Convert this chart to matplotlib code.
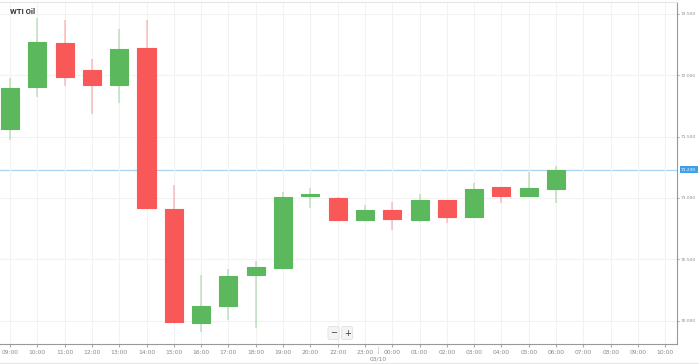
import numpy as np
import matplotlib.pyplot as plt
from matplotlib.patches import Rectangle

# hourly candles, WTI Oil
hours = ["09:00", "10:00", "11:00", "12:00", "13:00", "14:00", "15:00", "16:00",
         "17:00", "18:00", "19:00", "20:00", "22:00", "23:00", "00:00", "01:00",
         "02:00", "03:00", "04:00", "05:00", "06:00", "07:00", "08:00", "09:00", "10:00"]
opens = [71.562, 71.901, 72.260, 72.040, 71.920, 72.219, 70.910, 69.982, 70.121, 70.371,
         70.430, 71.016, 70.998, 70.818, 70.900, 70.818, 70.981, 70.843, 71.087, 71.014, 71.073]
highs = [71.977, 72.463, 72.450, 72.130, 72.374, 72.450, 71.106, 70.373, 70.419, 70.487,
         71.046, 71.079, 71.005, 70.943, 70.965, 71.030, 70.981, 71.120, 71.090, 71.209, 71.261]
lows = [71.472, 71.820, 71.912, 71.684, 71.776, 70.916, 69.988, 69.911, 70.004, 69.941,
        70.430, 70.916, 70.818, 70.818, 70.739, 70.807, 70.794, 70.843, 70.962, 71.014, 70.957]
closes = [71.896, 72.268, 71.983, 71.918, 72.211, 70.916, 69.988, 70.118, 70.365, 70.436,
          71.011, 71.035, 70.818, 70.905, 70.827, 70.981, 70.848, 71.076, 71.014, 71.079, 71.228]
last_price = 71.230
yticks = [70.0, 70.5, 71.0, 71.5, 72.0, 72.5]

green = "#5cb85c"
red = "#f95858"

fig = plt.figure(figsize=(6.99, 3.64), dpi=100)
ax = fig.add_axes([0, 20 / 364, 677 / 699, 342 / 364])

for i in range(len(opens)):
    up = closes[i] >= opens[i]
    c = green if up else red
    ax.vlines(i, lows[i], highs[i], color=c, alpha=0.35, lw=1.2, zorder=2)
    lo = min(opens[i], closes[i])
    h = max(abs(closes[i] - opens[i]), 0.01)
    ax.add_patch(Rectangle((i - 0.33, lo), 0.66, h, facecolor=c,
                           edgecolor=c, lw=0.8, zorder=3))

ax.set_xlim(-0.366, 24.43)
ax.set_ylim(69.811, 72.596)

ax.set_xticks(range(len(hours)))
ax.set_xticklabels(hours, fontsize=4.3, color="#888888")
ax.set_yticks(yticks)
ax.set_yticklabels([f"{v:.3f}" for v in yticks], fontsize=3.2, color="#888888")
ax.yaxis.tick_right()
ax.tick_params(axis="x", length=2, color="#aaaaaa", pad=2.5)
ax.tick_params(axis="y", length=1.5, color="#aaaaaa", pad=1.5)
ax.grid(True, color="#f2f2f2", lw=0.8, zorder=0)

ax.spines["left"].set_visible(False)
ax.spines["top"].set_color("#e6e6e6")
ax.spines["right"].set_color("#999999")
ax.spines["bottom"].set_color("#999999")

# current price line and label
ax.axhline(last_price, color="#a9d3f0", lw=0.9, zorder=1)
ax.annotate(f"{last_price:.3f}", xy=(1, last_price), xycoords=("axes fraction", "data"),
            xytext=(3, 0), textcoords="offset points", fontsize=3.2, color="white",
            va="center", ha="left",
            bbox=dict(boxstyle="square,pad=0.3", fc="#3ea0e8", ec="none"))

# day separator below the axis
ax.annotate("", xy=(13.5, 0), xycoords=("data", "axes fraction"),
            xytext=(13.5, -9), textcoords=("data", "offset points"),
            arrowprops=dict(arrowstyle="-", color="#bbbbbb", lw=0.6, ls=(0, (1.5, 1.5))))
ax.annotate("03/10", xy=(13.5, 0), xycoords=("data", "axes fraction"),
            xytext=(0, -9), textcoords="offset points", fontsize=4.3,
            color="#888888", ha="center", va="top")

# zoom buttons
for dx, s in [(11.85, "\u2212"), (12.35, "+")]:
    ax.text(dx, 69.9, s, fontsize=6, ha="center", va="center", color="#333333",
            bbox=dict(boxstyle="round,pad=0.25", fc="#f4f4f4", ec="#dddddd", lw=0.5),
            zorder=5)

fig.text(10 / 699, 1 - 12 / 364, "WTI Oil", fontsize=5.6, family="Roboto",
         fontweight="bold", color="#333333", va="center", ha="left")

fig.add_artist(plt.Line2D([0, 1], [1 / 364, 1 / 364], color="#e6e6e6", lw=0.8))

fig.savefig("out.png", dpi=100, facecolor="white")
